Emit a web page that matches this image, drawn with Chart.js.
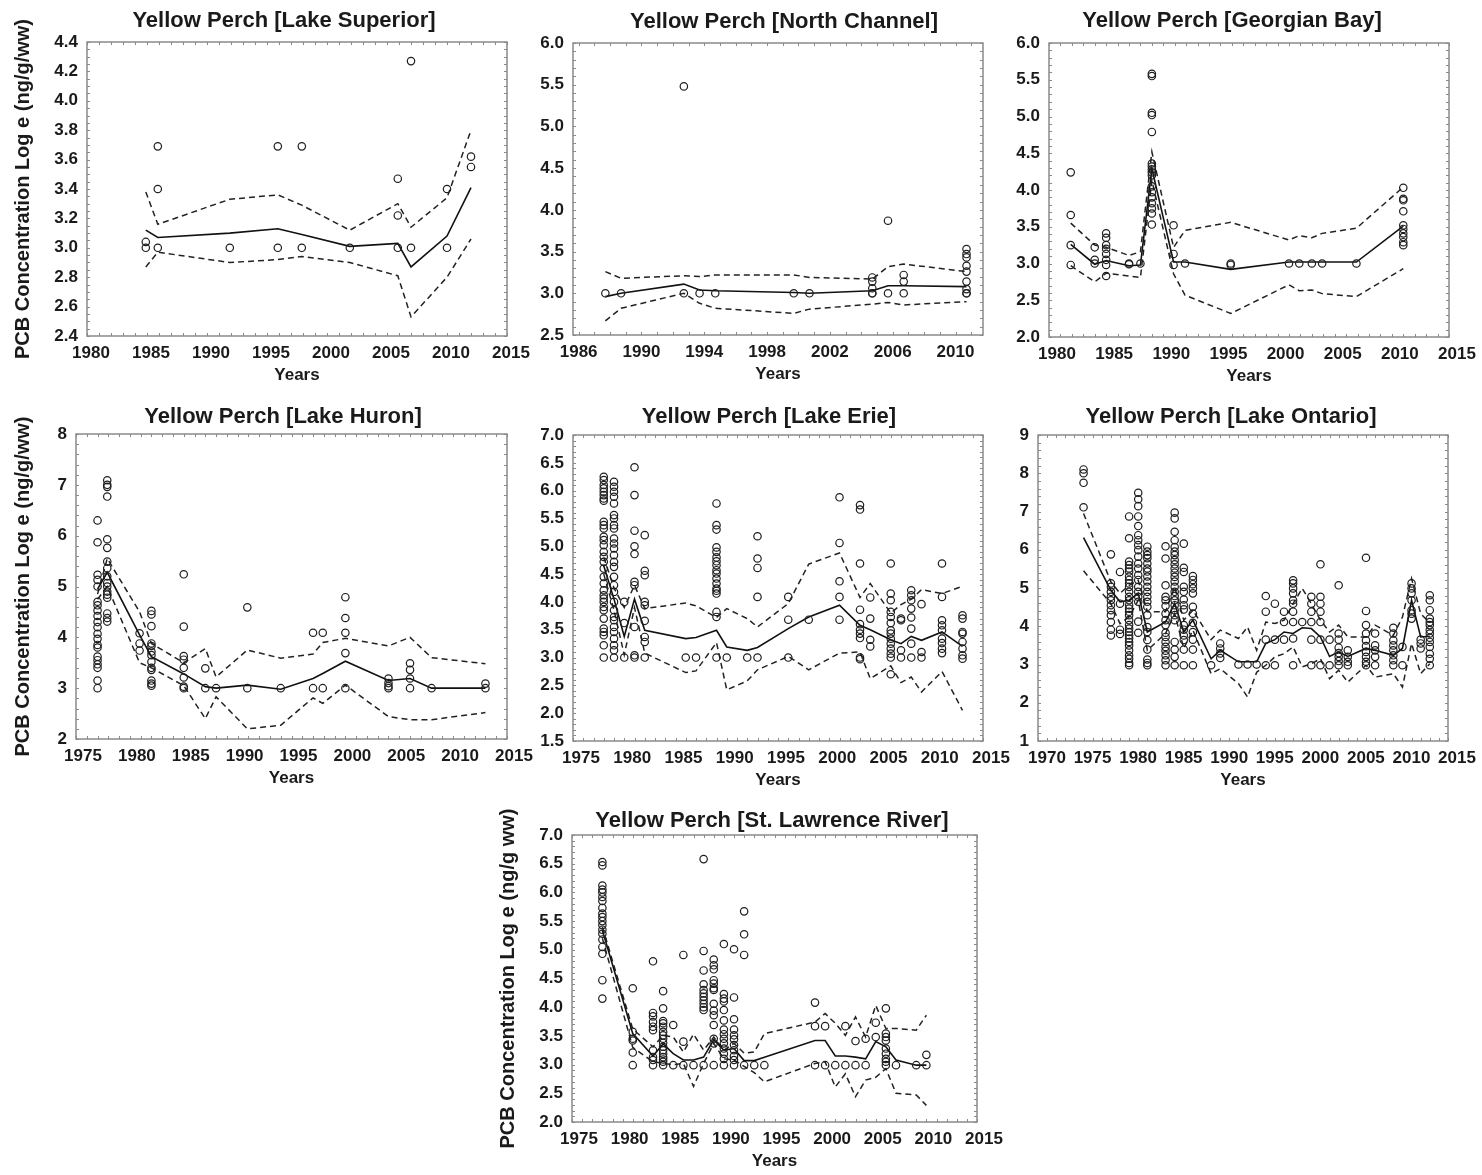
<!DOCTYPE html>
<html>
<head>
<meta charset="utf-8">
<title>Yellow Perch PCB</title>
<script src="https://cdn.jsdelivr.net/npm/chart.js@4.4.0/dist/chart.umd.min.js"></script>
<style>
  body { margin: 0; background: #fff; width: 1482px; height: 1175px; position: relative; overflow: hidden; }
  .panel { position: absolute; }
</style>
</head>
<body>
<script>
// ---- data ----
const yTitleA = 'PCB Concentration Log e (ng/g/ww)';
const yTitleB = 'PCB Concentration Log e (ng/g ww)';

// Lake Superior
const supYears = [1984.9, 1985.9, 1991.9, 1995.9, 1997.9, 2001.9, 2005.9, 2007.0, 2010.0, 2012.0];
const supPoints = [[3.04, 3.0], [3.69, 3.40, 3.0], [3.0], [3.69, 3.0], [3.69, 3.0], [3.0], [3.47, 3.22, 3.0], [4.27, 3.0], [3.40, 3.0], [3.62, 3.55]];
const supMean = [3.12, 3.07, 3.10, 3.13, 3.09, 3.01, 3.03, 2.87, 3.08, 3.41];
const supUpper = [3.38, 3.16, 3.33, 3.36, 3.29, 3.12, 3.30, 3.14, 3.34, 3.80];
const supLower = [2.87, 2.97, 2.90, 2.92, 2.94, 2.90, 2.81, 2.53, 2.80, 3.06];

// North Channel
const ncXTicks = [1986, 1990, 1994, 1998, 2002, 2006, 2010];
const ncYears = [1987.7, 1988.7, 1992.7, 1993.7, 1994.7, 1999.7, 2000.7, 2004.7, 2005.7, 2006.7, 2010.7];
const ncPoints = [[3.0], [3.0], [5.48, 3.0], [3.0], [3.0], [3.0], [3.0], [3.19, 3.14, 3.06, 3.0, 3.0], [3.87, 3.0], [3.22, 3.14, 3.0], [3.53, 3.47, 3.43, 3.33, 3.26, 3.14, 3.05, 3.0, 3.0]];
const ncMean = [2.96, 3.0, 3.11, 3.04, 3.03, 3.01, 3.0, 3.03, 3.09, 3.09, 3.08];
const ncUpper = [3.26, 3.18, 3.21, 3.20, 3.22, 3.22, 3.19, 3.17, 3.32, 3.35, 3.26];
const ncLower = [2.67, 2.82, 3.0, 2.88, 2.82, 2.76, 2.81, 2.87, 2.89, 2.86, 2.90];

// Georgian Bay
const gbYears = [1981.9, 1984, 1985, 1987, 1988, 1989, 1990.9, 1991.9, 1995.9, 2001, 2001.9, 2003, 2003.9, 2006.9, 2011];
const gbPoints = [[4.24, 3.66, 3.25, 2.98], [3.22, 3.05, 3.0], [3.41, 3.35, 3.25, 3.20, 3.13, 3.05, 2.98, 2.83], [3.0, 2.99], [3.0],
  [5.58, 5.55, 5.05, 5.02, 4.79, 4.36, 4.32, 4.28, 4.24, 4.2, 4.05, 3.97, 3.9, 3.82, 3.75, 3.68, 3.53],
  [3.52, 3.13, 2.98], [3.0], [3.0, 2.98], [3.0], [3.0], [3.0], [3.0], [3.0],
  [4.03, 3.88, 3.86, 3.71, 3.52, 3.47, 3.41, 3.36, 3.29, 3.25]];
const gbMean = [3.26, 2.99, 3.04, 2.97, 2.98, 4.29, 3.02, 3.02, 2.92, 3.02, 3.02, 3.02, 3.02, 3.02, 3.51];
const gbUpper = [3.55, 3.25, 3.22, 3.11, 3.16, 4.52, 3.22, 3.45, 3.56, 3.32, 3.38, 3.35, 3.41, 3.48, 4.04];
const gbLower = [2.97, 2.75, 2.87, 2.83, 2.81, 4.13, 2.86, 2.57, 2.32, 2.71, 2.63, 2.64, 2.59, 2.55, 2.93];

// Lake Huron
const hurYears = [1977, 1977.9, 1980.9, 1982, 1985, 1987, 1988, 1990.9, 1994, 1997, 1997.9, 2000, 2004, 2006, 2008, 2013];
const hurPoints = [
  [6.30, 5.87, 5.23, 5.13, 5.0, 4.70, 4.63, 4.53, 4.42, 4.30, 4.20, 4.07, 3.97, 3.85, 3.80, 3.62, 3.55, 3.47, 3.40, 3.15, 3.0],
  [7.09, 7.0, 6.96, 6.77, 5.93, 5.76, 5.49, 5.36, 5.2, 5.07, 5.0, 4.9, 4.84, 4.78, 4.47, 4.38, 4.31],
  [4.08, 3.88, 3.74],
  [4.52, 4.45, 4.22, 3.88, 3.83, 3.72, 3.65, 3.52, 3.40, 3.36, 3.15, 3.09, 3.05],
  [5.24, 4.21, 3.63, 3.56, 3.40, 3.21, 3.03, 3.0],
  [3.39, 3.0], [3.0], [4.59, 3.0], [3.0], [4.09, 3.0], [4.09, 3.0],
  [4.79, 4.38, 4.09, 3.69, 3.0], [3.19, 3.1, 3.04, 3.0], [3.49, 3.36, 3.19, 3.0], [3.0], [3.09, 3.0]];
const hurMean = [4.95, 5.28, 4.05, 3.62, 3.28, 3.03, 3.0, 3.06, 2.98, 3.19, 3.29, 3.53, 3.15, 3.19, 3.0, 3.0];
const hurUpper = [4.85, 5.55, 4.5, 3.88, 3.5, 3.78, 3.22, 3.75, 3.59, 3.67, 3.9, 3.98, 3.83, 4.0, 3.6, 3.48];
const hurLower = [4.75, 5.0, 3.5, 3.4, 3.05, 2.4, 2.83, 2.2, 2.27, 2.81, 2.7, 3.06, 2.44, 2.38, 2.38, 2.52];

// Lake Erie
const erieYears = [1978, 1979, 1980, 1981, 1982, 1986, 1987, 1989, 1990, 1992, 1993, 1996, 1998, 2001, 2003, 2004, 2006, 2007, 2008, 2009, 2011, 2013];
const eriePoints = [
  [6.25, 6.19, 6.1, 6.04, 5.98, 5.92, 5.86, 5.82, 5.44, 5.38, 5.32, 5.17, 5.11, 5.02, 4.9, 4.81, 4.72, 4.6, 4.45, 4.33, 4.21, 4.12, 4.06, 4.0, 3.91, 3.85, 3.70, 3.52, 3.46, 3.40, 3.22, 3.0],
  [6.16, 6.07, 5.98, 5.89, 5.77, 5.56, 5.5, 5.38, 5.32, 5.14, 5.05, 4.96, 4.84, 4.72, 4.63, 4.45, 4.3, 4.18, 4.0, 3.85, 3.73, 3.67, 3.55, 3.46, 3.34, 3.22, 3.13, 3.0],
  [4.0, 3.62, 3.0],
  [6.42, 5.92, 5.28, 5.0, 4.86, 4.36, 4.3, 3.55, 3.04, 3.0],
  [5.2, 4.56, 4.48, 4.0, 3.94, 3.66, 3.37, 3.28, 3.0],
  [3.0], [3.0],
  [5.77, 5.38, 5.30, 4.98, 4.9, 4.8, 4.73, 4.66, 4.57, 4.51, 4.42, 4.33, 4.24, 4.2, 4.15, 3.82, 3.73, 3.0],
  [3.0], [3.0],
  [5.18, 4.78, 4.61, 4.09, 3.0],
  [4.09, 3.68, 3.0],
  [3.68],
  [5.88, 5.06, 4.37, 4.09, 3.68],
  [5.74, 5.66, 4.69, 3.86, 3.6, 3.5, 3.43, 3.35, 3.0, 2.97],
  [4.08, 3.7, 3.32, 3.2],
  [4.69, 4.15, 4.03, 3.82, 3.73, 3.62, 3.49, 3.43, 3.34, 3.25, 3.16, 3.07, 3.0, 2.7],
  [3.7, 3.67, 3.13, 3.0],
  [4.21, 4.12, 4.03, 3.88, 3.72, 3.52, 3.25, 3.0],
  [3.96, 3.1, 3.0],
  [4.69, 4.09, 3.67, 3.58, 3.49, 3.34, 3.26, 3.16, 3.08],
  [3.76, 3.7, 3.46, 3.43, 3.28, 3.16, 3.04, 2.98]];
const erieMean = [4.65, 4.05, 3.38, 4.05, 3.49, 3.34, 3.36, 3.49, 3.19, 3.13, 3.18, 3.52, 3.73, 3.94, 3.58, 3.5, 3.32, 3.25, 3.38, 3.31, 3.46, 3.2];
const erieUpper = [4.8, 4.25, 3.9, 4.3, 3.88, 3.98, 3.93, 3.72, 3.88, 3.7, 3.55, 3.97, 4.68, 4.88, 4.08, 4.33, 3.8, 3.95, 4.05, 4.22, 4.15, 4.28];
const erieLower = [4.5, 3.85, 3.05, 3.9, 3.08, 2.73, 2.76, 3.27, 2.42, 2.58, 2.78, 3.02, 2.78, 3.08, 3.1, 2.62, 2.85, 2.55, 2.65, 2.38, 2.75, 2.05];

// Lake Ontario
const ontYears = [1975, 1978, 1979, 1980, 1981, 1982, 1984, 1985, 1986, 1987, 1989, 1990, 1992, 1993, 1994, 1995, 1996, 1997, 1998, 1999, 2000, 2001, 2002, 2003, 2004, 2006, 2007, 2009, 2010, 2011, 2012, 2013];
const ontPoints = [
  [8.1, 8.0, 7.75, 7.11],
  [5.88, 5.12, 5.03, 4.9, 4.77, 4.68, 4.55, 4.42, 4.29, 4.11, 3.91, 3.76],
  [5.42, 4.59, 3.91, 3.8],
  [6.87, 6.3, 5.69, 5.6, 5.51, 5.43, 5.3, 5.21, 5.12, 5.03, 4.9, 4.77, 4.68, 4.55, 4.46, 4.38, 4.29, 4.16, 4.03, 3.94, 3.85, 3.76, 3.68, 3.59, 3.5, 3.37, 3.24, 3.15, 3.04, 2.98],
  [7.49, 7.32, 7.14, 6.87, 6.62, 6.38, 6.25, 6.12, 5.99, 5.82, 5.64, 5.51, 5.34, 5.21, 5.03, 4.9, 4.77, 4.64, 4.12, 3.83],
  [6.08, 5.95, 5.86, 5.78, 5.64, 5.51, 5.43, 5.3, 5.17, 5.03, 4.9, 4.77, 4.64, 4.51, 4.29, 3.98, 3.85, 3.64, 3.39, 3.13, 3.04, 2.98],
  [6.09, 5.77, 5.07, 4.77, 4.68, 4.53, 4.33, 4.16, 4.03, 3.83, 3.72, 3.59, 3.46, 3.36, 3.24, 3.11, 2.98],
  [6.97, 6.82, 6.47, 6.25, 6.07, 5.95, 5.86, 5.73, 5.62, 5.51, 5.4, 5.29, 5.17, 5.03, 4.9, 4.79, 4.68, 4.55, 4.42, 4.29, 4.16, 3.59, 3.39, 3.2, 2.98],
  [6.16, 5.53, 5.42, 5.03, 4.9, 4.7, 4.55, 4.44, 4.03, 3.91, 3.76, 3.64, 3.39, 2.98],
  [5.31, 5.21, 5.1, 4.99, 4.86, 4.51, 4.33, 4.09, 3.85, 3.65, 3.39, 2.98],
  [2.98],
  [3.55, 3.42, 3.29, 3.17],
  [3.0], [3.0], [3.0],
  [4.79, 4.38, 3.65, 2.98],
  [4.59, 3.65, 2.98],
  [4.38, 4.11, 3.65],
  [5.2, 5.12, 4.99, 4.86, 4.68, 4.59, 4.38, 4.11, 3.68, 2.98],
  [4.11],
  [4.77, 4.59, 4.38, 4.11, 3.65, 2.98],
  [5.62, 4.77, 4.59, 4.38, 4.11, 3.65, 2.98],
  [3.65, 2.98],
  [5.07, 3.81, 3.65, 3.44, 3.3, 3.2, 3.09, 2.98],
  [3.37, 3.2, 3.07, 2.98],
  [5.79, 4.4, 4.03, 3.81, 3.63, 3.48, 3.33, 3.2, 3.07, 2.98],
  [3.81, 3.5, 3.37, 3.2, 2.98],
  [3.96, 3.81, 3.63, 3.5, 3.37, 3.24, 3.11, 2.98],
  [3.46, 2.98],
  [5.12, 4.99, 4.86, 4.68, 4.42, 4.33, 4.2],
  [3.65, 3.55, 3.42],
  [4.81, 4.68, 4.42, 4.2, 4.11, 4.03, 3.9, 3.81, 3.7, 3.59, 3.46, 3.28, 3.15, 2.98]];
const ontMean = [6.32, 4.94, 4.64, 4.68, 4.86, 3.85, 4.11, 4.6, 3.85, 4.16, 3.15, 3.37, 3.07, 3.07, 3.07, 3.55, 3.65, 3.85, 3.81, 3.96, 3.94, 3.72, 3.21, 3.33, 3.21, 3.42, 3.37, 3.24, 3.42, 4.68, 3.72, 3.74];
const ontUpper = [6.95, 5.16, 4.86, 5.07, 5.2, 4.38, 4.38, 5.03, 4.16, 4.42, 3.65, 3.9, 3.68, 3.98, 3.37, 4.11, 4.07, 4.16, 4.59, 4.99, 4.59, 4.16, 3.85, 4.03, 3.72, 3.72, 4.03, 3.76, 4.24, 5.25, 4.33, 4.09];
const ontLower = [5.45, 4.59, 4.07, 4.24, 4.68, 3.37, 3.81, 4.33, 3.42, 3.9, 2.76, 2.89, 2.5, 2.15, 2.8, 2.98, 3.2, 3.28, 3.46, 2.94, 3.02, 3.15, 2.63, 2.85, 2.54, 2.98, 2.67, 2.76, 2.41, 3.55, 2.76, 3.02];

// St. Lawrence River
const slrYears = [1978, 1981, 1983, 1984, 1985, 1986, 1987, 1988, 1989, 1990, 1991, 1992, 1993, 1994, 1999, 2000, 2001, 2002, 2003, 2004, 2005, 2006, 2007, 2009, 2010];
const slrPoints = [
  [6.53, 6.47, 6.12, 6.05, 6.0, 5.92, 5.85, 5.73, 5.63, 5.57, 5.5, 5.43, 5.35, 5.28, 5.18, 5.05, 4.93, 4.47, 4.15],
  [4.33, 3.57, 3.45, 3.42, 3.21, 2.99],
  [4.80, 3.90, 3.84, 3.74, 3.66, 3.6, 3.25, 3.13, 3.08, 2.99],
  [4.28, 3.98, 3.76, 3.72, 3.66, 3.57, 3.51, 3.45, 3.38, 3.31, 3.25, 3.19, 3.13, 3.09, 3.05, 2.99],
  [3.69, 2.99],
  [4.91, 3.4, 2.99],
  [2.99],
  [6.58, 4.98, 4.64, 4.4, 4.3, 4.24, 4.18, 4.12, 4.06, 4.0, 3.95, 2.99],
  [4.83, 4.73, 4.66, 4.47, 4.41, 4.33, 4.3, 4.06, 3.94, 3.86, 3.69, 3.45, 3.37, 2.99],
  [5.1, 4.23, 4.15, 4.1, 3.95, 3.77, 3.61, 3.53, 3.45, 3.37, 3.28, 3.19, 3.1, 2.99],
  [5.01, 4.17, 3.79, 3.61, 3.51, 3.44, 3.34, 3.25, 3.15, 3.08, 2.99],
  [5.67, 5.27, 4.91, 2.99],
  [2.99], [2.99],
  [4.08, 3.67, 2.99],
  [3.67, 2.99],
  [2.99],
  [3.67, 2.99],
  [3.41, 2.99],
  [3.45, 2.99],
  [3.73, 3.48],
  [3.98, 3.54, 3.48, 3.42, 3.28, 3.19, 3.1, 3.05, 2.99],
  [2.99], [2.99],
  [3.17, 2.99]];
const slrMean = [5.34, 3.54, 3.15, 3.36, 3.19, 3.08, 3.08, 3.13, 3.43, 3.25, 3.28, 3.07, 3.07, 3.13, 3.42, 3.42, 3.15, 3.15, 3.13, 3.1, 3.4, 3.31, 3.08, 2.99, 2.99];
const slrUpper = [5.4, 3.62, 3.31, 3.51, 3.48, 3.22, 3.53, 3.25, 3.48, 3.25, 3.37, 3.2, 3.22, 3.54, 3.74, 3.89, 3.72, 3.51, 3.83, 3.48, 4.03, 3.63, 3.63, 3.6, 3.86];
const slrLower = [5.2, 3.3, 3.05, 3.02, 3.0, 3.02, 2.62, 3.02, 3.37, 3.1, 3.08, 2.97, 2.86, 2.7, 3.02, 3.05, 2.61, 2.84, 2.44, 2.73, 2.78, 2.93, 2.5, 2.47, 2.29];

// ---- drawing ----
const FONT = "Arial, 'Liberation Sans', Helvetica, sans-serif";
Chart.defaults.font.family = FONT;
Chart.defaults.color = '#1a1a1a';

// grey frame with small inside tick marks on all four sides
const frameTicks = {
  id: 'frameTicks',
  afterDatasetsDraw(chart, args, opts) {
    const { ctx, chartArea: a } = chart;
    const x = chart.scales.x, y = chart.scales.y;
    ctx.save();
    ctx.strokeStyle = '#8a8a8a';
    ctx.lineWidth = 1;
    ctx.beginPath();
    for (let v = Math.ceil(x.min); v <= x.max + 1e-6; v += 1) {
      const px = Math.round(x.getPixelForValue(v)) + 0.5;
      ctx.moveTo(px, a.bottom); ctx.lineTo(px, a.bottom - 3);
      ctx.moveTo(px, a.top); ctx.lineTo(px, a.top + 3);
    }
    const st = opts.yMinor;
    for (let k = Math.ceil(y.min / st - 1e-6); k * st <= y.max + 1e-6; k++) {
      const py = Math.round(y.getPixelForValue(k * st)) + 0.5;
      ctx.moveTo(a.left, py); ctx.lineTo(a.left + 3, py);
      ctx.moveTo(a.right, py); ctx.lineTo(a.right - 3, py);
    }
    ctx.stroke();
    ctx.lineWidth = 1.5;
    ctx.strokeRect(a.left, a.top, a.right - a.left, a.bottom - a.top);
    ctx.restore();
  }
};

// panel heading placed at a given centre
const panelTitle = {
  id: 'panelTitle',
  afterDraw(chart, args, opts) {
    const ctx = chart.ctx;
    ctx.save();
    ctx.font = 'bold 22px ' + FONT;
    ctx.fillStyle = '#1a1a1a';
    ctx.textAlign = 'center';
    ctx.textBaseline = 'middle';
    ctx.fillText(opts.text, opts.cx, opts.cy);
    ctx.restore();
  }
};

function scatterData(years, pts) {
  const out = [];
  years.forEach((yr, i) => pts[i].forEach(v => out.push({ x: yr, y: v })));
  return out;
}
function lineData(years, vals) {
  return years.map((yr, i) => ({ x: yr, y: vals[i] }));
}

const panels = [
  { title: 'Yellow Perch [Lake Superior]', years: supYears, pts: supPoints, mean: supMean, upper: supUpper, lower: supLower,
    x: { min: 1980, max: 2015, step: 5, offset: 4 }, y: { min: 2.4, max: 4.4, step: 0.2, minor: 0.05, dec: 1 },
    yTitle: yTitleA, yTitlePad: 11, area: [87, 42, 507, 336], cLeft: 0, cTop: 0, padR: 40, titleC: [284, 21] },
  { title: 'Yellow Perch [North Channel]', years: ncYears, pts: ncPoints, mean: ncMean, upper: ncUpper, lower: ncLower,
    x: { min: 1985.64, max: 2011.75, ticks: ncXTicks, offset: 0 }, y: { min: 2.5, max: 6.0, step: 0.5, minor: 0.1, dec: 1 },
    area: [573, 43, 983, 335], cLeft: 523, cTop: 0, padR: 30, titleC: [784, 22] },
  { title: 'Yellow Perch [Georgian Bay]', years: gbYears, pts: gbPoints, mean: gbMean, upper: gbUpper, lower: gbLower,
    x: { min: 1980, max: 2015, step: 5, offset: 8 }, y: { min: 2.0, max: 6.0, step: 0.5, minor: 0.1, dec: 1 },
    area: [1049, 43, 1449, 337], cLeft: 989, cTop: 0, padR: 30, titleC: [1232, 21] },
  { title: 'Yellow Perch [Lake Huron]', years: hurYears, pts: hurPoints, mean: hurMean, upper: hurUpper, lower: hurLower,
    x: { min: 1975, max: 2015, step: 5, offset: 7 }, y: { min: 2, max: 8, step: 1, minor: 0.2, dec: 0 },
    yTitle: yTitleA, yTitlePad: 11, area: [76, 434, 507, 739], cLeft: 0, cTop: 390, padR: 40, titleC: [283, 417] },
  { title: 'Yellow Perch [Lake Erie]', years: erieYears, pts: eriePoints, mean: erieMean, upper: erieUpper, lower: erieLower,
    x: { min: 1975, max: 2015, step: 5, offset: 8 }, y: { min: 1.5, max: 7.0, step: 0.5, minor: 0.1, dec: 1 },
    area: [573, 435, 983, 741], cLeft: 523, cTop: 390, padR: 32, titleC: [769, 417] },
  { title: 'Yellow Perch [Lake Ontario]', years: ontYears, pts: ontPoints, mean: ontMean, upper: ontUpper, lower: ontLower,
    x: { min: 1970, max: 2015, step: 5, offset: 9 }, y: { min: 1, max: 9, step: 1, minor: 0.2, dec: 0 },
    area: [1038, 435, 1448, 741], cLeft: 988, cTop: 390, padR: 30, titleC: [1231, 417] },
  { title: 'Yellow Perch [St. Lawrence River]', years: slrYears, pts: slrPoints, mean: slrMean, upper: slrUpper, lower: slrLower,
    x: { min: 1975, max: 2015, step: 5, offset: 7 }, y: { min: 2.0, max: 7.0, step: 0.5, minor: 0.1, dec: 1 },
    yTitle: yTitleB, yTitlePad: 6, area: [572, 835, 977, 1122], cLeft: 490, cTop: 790, padR: 40, titleC: [772, 821] }
];

const X_H = 54;

panels.forEach(p => {
  const [L, T, R, B] = p.area;
  const w = R + p.padR - p.cLeft;
  const h = B + X_H - p.cTop;
  const yW = L - p.cLeft;

  const div = document.createElement('div');
  div.className = 'panel';
  div.style.left = p.cLeft + 'px';
  div.style.top = p.cTop + 'px';
  div.style.width = w + 'px';
  div.style.height = h + 'px';
  const cv = document.createElement('canvas');
  cv.width = w; cv.height = h;
  cv.style.width = w + 'px'; cv.style.height = h + 'px';
  div.appendChild(cv);
  document.body.appendChild(div);

  const xScale = {
    type: 'linear', min: p.x.min, max: p.x.max,
    grid: { display: false, drawTicks: false },
    border: { display: false },
    ticks: {
      autoSkip: false, maxRotation: 0, padding: 7, labelOffset: p.x.offset,
      font: { size: 17, weight: 'bold' }, color: '#1a1a1a',
      callback: v => String(v)
    },
    title: { display: true, text: 'Years', font: { size: 17, weight: 'bold' }, color: '#1a1a1a', padding: { top: 0, bottom: 4 } },
    afterFit: s => { s.height = X_H; }
  };
  if (p.x.ticks) {
    xScale.afterBuildTicks = s => { s.ticks = p.x.ticks.map(v => ({ value: v })); };
  } else {
    xScale.ticks.stepSize = p.x.step;
  }

  const yScale = {
    type: 'linear', min: p.y.min, max: p.y.max,
    grid: { display: false, drawTicks: false },
    border: { display: false },
    ticks: {
      stepSize: p.y.step, autoSkip: false, padding: 9,
      font: { size: 17, weight: 'bold' }, color: '#1a1a1a',
      callback: v => Number(v).toFixed(p.y.dec)
    },
    title: p.yTitle ? { display: true, text: p.yTitle, font: { size: 20, weight: 'bold' }, color: '#1a1a1a', padding: { top: p.yTitlePad, bottom: 0 } } : { display: false },
    afterFit: s => { s.width = yW; }
  };

  new Chart(cv, {
    type: 'scatter',
    data: {
      datasets: [
        { data: scatterData(p.years, p.pts), pointStyle: 'circle', pointRadius: 3.7, pointBorderWidth: 1.2,
          pointBorderColor: '#1e1e1e', pointBackgroundColor: 'rgba(255,255,255,0)', showLine: false },
        { data: lineData(p.years, p.mean), showLine: true, pointRadius: 0, borderColor: '#111', borderWidth: 1.6, tension: 0, fill: false },
        { data: lineData(p.years, p.upper), showLine: true, pointRadius: 0, borderColor: '#222', borderWidth: 1.5, borderDash: [6, 4], tension: 0, fill: false },
        { data: lineData(p.years, p.lower), showLine: true, pointRadius: 0, borderColor: '#222', borderWidth: 1.5, borderDash: [6, 4], tension: 0, fill: false }
      ]
    },
    options: {
      responsive: false,
      animation: false,
      layout: { padding: { left: 0, top: T - p.cTop, right: p.padR, bottom: 0 } },
      plugins: {
        legend: { display: false },
        tooltip: { enabled: false },
        title: { display: false },
        panelTitle: { text: p.title, cx: p.titleC[0] - p.cLeft, cy: p.titleC[1] - p.cTop },
        frameTicks: { yMinor: p.y.minor }
      },
      scales: { x: xScale, y: yScale }
    },
    plugins: [frameTicks, panelTitle]
  });
});
</script>
</body>
</html>
